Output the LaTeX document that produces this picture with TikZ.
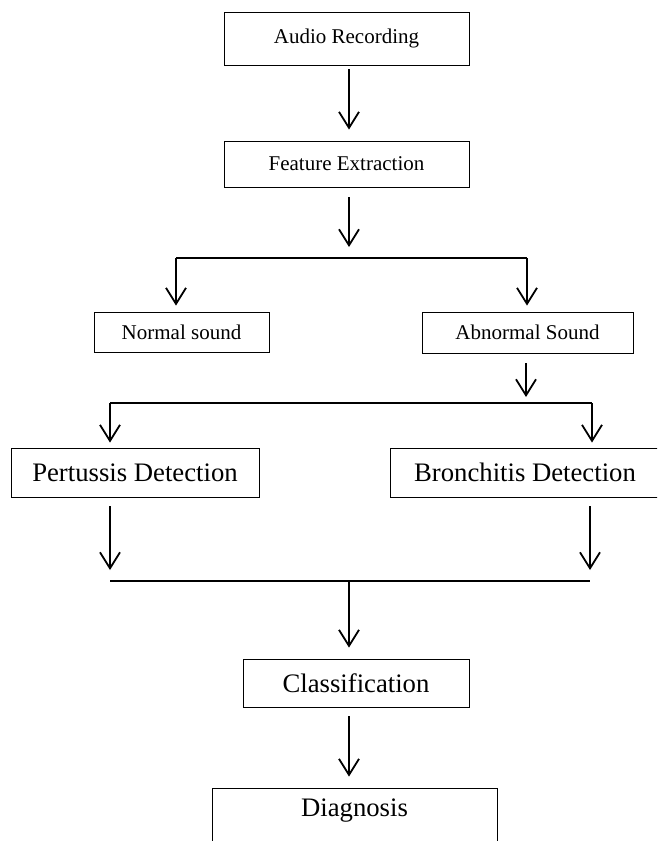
\documentclass[tikz,border=0pt]{standalone}
\usepackage{fontspec}
\setmainfont{Liberation Serif}
\usetikzlibrary{arrows.meta, positioning}

\begin{document}
\begin{tikzpicture}[auto, >={Straight Barb[length=16pt, width=20pt]}, x=1pt, y=-1pt]
	\tikzstyle{block} = [draw=black, line width=0.9pt, rectangle, inner sep=0pt, font=\fontsize{21}{24}\selectfont]
	\tikzstyle{bigblock} = [block, font=\fontsize{26.7}{30}\selectfont]
	\tikzstyle{flow} = [line width=1.8pt]

	\useasboundingbox (0,0) rectangle (657,841);
	\clip (0,0) rectangle (657,841);

	\node[block, minimum width=245pt, minimum height=53pt]		at (346.5, 38.5)	(audio)		{Audio Recording};
	\node[block, minimum width=245pt, minimum height=46pt]		at (346.5, 164)		(feat)		{Feature Extraction};
	\node[block, minimum width=175pt, minimum height=40pt]		at (181.5, 332)		(normal)	{Normal sound};
	\node[block, minimum width=211pt, minimum height=41pt]		at (527.5, 332.5)	(abnormal)	{Abnormal Sound};
	\node[bigblock, minimum width=248pt, minimum height=49pt]	at (135, 472.5)		(pert)		{Pertussis Detection};
	\node[bigblock, minimum width=270pt, minimum height=49pt]	at (525, 472.5)		(bron)		{Bronchitis Detection};
	\node[bigblock, minimum width=226pt, minimum height=48pt]	at (356, 683)		(class)		{Classification};
	\node[bigblock, minimum width=285pt, text height=28pt, text depth=40pt, anchor=base]	at (354.5, 816)	(diag)	{Diagnosis};

	% junction points
	\coordinate (s1) at (349, 258);
	\coordinate (sL) at (176, 258);
	\coordinate (sR) at (527, 258);
	\coordinate (d1) at (526, 403);
	\coordinate (dL) at (110, 403);
	\coordinate (dR) at (592, 403);
	\coordinate (mL) at (110, 581);
	\coordinate (mR) at (590, 581);
	\coordinate (m1) at (349, 581);

	\draw[->, flow, shorten <=4pt, shorten >=11pt]	(audio.south -| s1) -- (feat.north -| s1);
	\draw[->, flow, shorten <=10pt, shorten >=11pt]	(feat.south -| s1) -- (s1);
	\draw[flow] (sL) -- (sR);
	\draw[->, flow, shorten >=6pt]	(sL) -- (sL |- normal.north);
	\draw[->, flow, shorten >=6pt]	(sR) -- (sR |- abnormal.north);
	\draw[->, flow, shorten <=10pt, shorten >=6pt]	(abnormal.south -| d1) -- (d1);
	\draw[flow] (dL) -- (dR);
	\draw[->, flow, shorten >=5pt]	(dL) -- (dL |- pert.north);
	\draw[->, flow, shorten >=5pt]	(dR) -- (dR |- bron.north);
	\draw[->, flow, shorten <=9pt, shorten >=11pt]	(pert.south -| mL) -- (mL);
	\draw[->, flow, shorten <=9pt, shorten >=11pt]	(bron.south -| mR) -- (mR);
	\draw[flow] (mL) -- (mR);
	\draw[->, flow, shorten >=11pt]	(m1) -- (m1 |- class.north);
	\draw[->, flow, shorten <=9pt, shorten >=11pt]	(class.south -| m1) -- (diag.north -| m1);
\end{tikzpicture}
\end{document}
